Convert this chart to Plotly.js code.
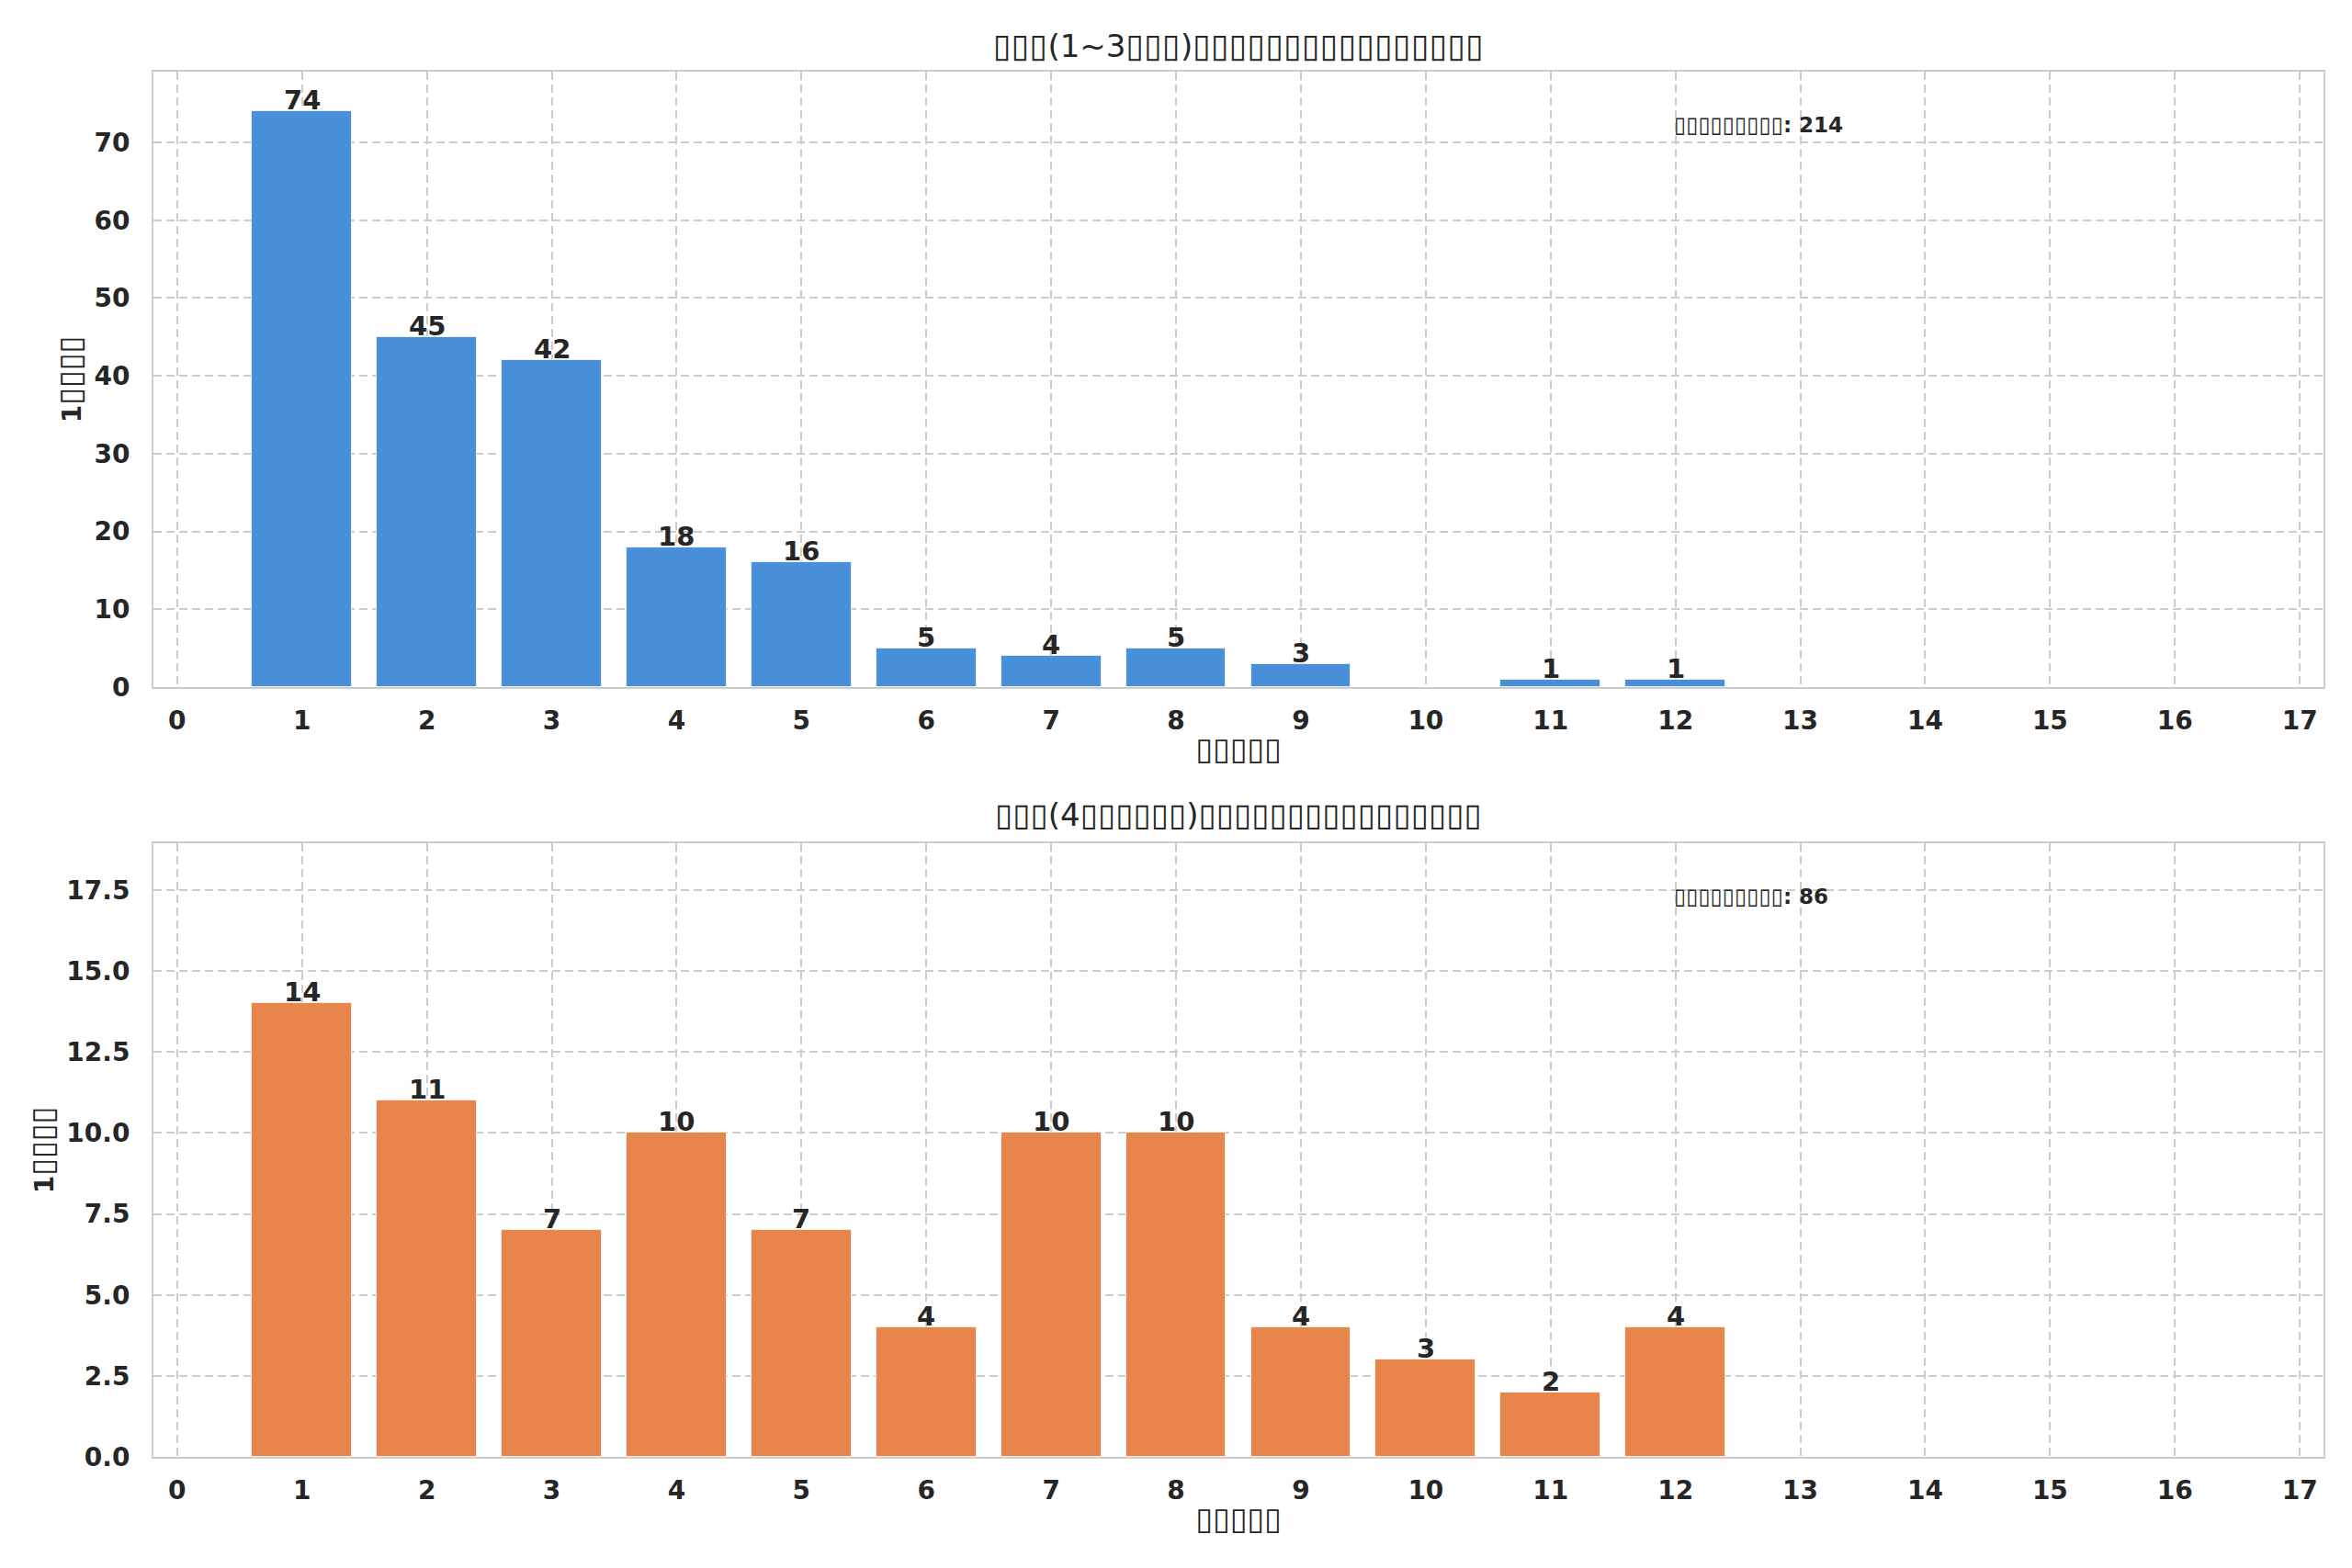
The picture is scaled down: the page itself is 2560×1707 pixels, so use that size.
<!DOCTYPE html>
<html>
<head>
<meta charset="utf-8">
<script src="https://cdn.plot.ly/plotly-3.0.1.min.js"></script>
<style>
  html, body { margin: 0; padding: 0; background: #ffffff; }
  #plot { width: 2560px; height: 1707px; }
</style>
</head>
<body>
<div id="plot"></div>
<script>
// data (the source text rendered as missing-glyph boxes)
const monthsTop = [1, 2, 3, 4, 5, 6, 7, 8, 9, 11, 12];
const countsTop = [74, 45, 42, 18, 16, 5, 4, 5, 3, 1, 1];
const monthsBottom = [1, 2, 3, 4, 5, 6, 7, 8, 9, 10, 11, 12];
const countsBottom = [14, 11, 7, 10, 7, 4, 10, 10, 4, 3, 2, 4];

const xTicks = Array.from({ length: 18 }, (_, i) => i);
const totalTop = countsTop.reduce((a, b) => a + b, 0);
const totalBottom = countsBottom.reduce((a, b) => a + b, 0);

// run of box glyphs, a bit larger than the surrounding text
function boxes(n, px) {
    return '<span style="font-size:' + px + 'px">' + '▯'.repeat(n) + '</span>';
}

const titleTop = boxes(3, 36) + "(1~3" + boxes(3, 36) + ")" + boxes(16, 36);
const titleBottom = boxes(3, 35) + "(4" + boxes(6, 35) + ")" + boxes(16, 35);
const xLabel = boxes(5, 34);
const yLabel = "1" + boxes(4, 34);
const totalLabel = boxes(9, 24);

const FONT = "DejaVu Sans, Liberation Sans, sans-serif";
const TXT = "#262626";
const blue = "#4a90d9";
const orange = "#e8854b";

function barTrace(x, y, color, xa, ya) {
    return {
        type: 'bar',
        x: x,
        y: y,
        width: 0.8,
        xaxis: xa,
        yaxis: ya,
        marker: { color: color, line: { color: 'rgba(255,255,255,0.7)', width: 1 } },
        hoverinfo: 'x+y'
    };
}

// value labels sitting right on top of each bar
function barLabels(x, y, xa, ya) {
    return x.map((v, i) => ({
        x: v,
        y: y[i],
        xref: xa,
        yref: ya,
        text: String(y[i]),
        xanchor: 'center',
        yanchor: 'bottom',
        yshift: -7,
        showarrow: false,
        font: { family: FONT, size: 29, color: TXT, weight: 'bold' }
    }));
}

function xAxis(anchor) {
    return {
        domain: [167 / 2560, 2529 / 2560],
        anchor: anchor,
        range: [-0.19, 17.19],
        tickmode: 'array',
        tickvals: xTicks,
        ticktext: xTicks.map(String),
        ticks: '',
        ticklabelstandoff: 10,
        tickfont: { family: FONT, size: 28, color: TXT, weight: 'bold' },
        showgrid: true,
        gridcolor: '#cccccc',
        gridwidth: 2,
        griddash: '9px,5px',
        zeroline: false,
        showline: true,
        mirror: true,
        linecolor: '#cccccc',
        linewidth: 2,
        title: {
            text: xLabel,
            standoff: 8,
            font: { family: FONT, size: 28, color: TXT, weight: 'bold' }
        }
    };
}

function yAxis(domain, anchor, range, dtick, fmt) {
    return {
        domain: domain,
        anchor: anchor,
        range: range,
        tick0: 0,
        dtick: dtick,
        tickformat: fmt,
        ticks: '',
        ticklabelstandoff: 18,
        tickfont: { family: FONT, size: 28, color: TXT, weight: 'bold' },
        showgrid: true,
        gridcolor: '#cccccc',
        gridwidth: 2,
        griddash: '9px,5px',
        zeroline: false,
        showline: true,
        mirror: true,
        linecolor: '#cccccc',
        linewidth: 2,
        title: {
            text: yLabel,
            standoff: 6,
            font: { family: FONT, size: 28, color: TXT, weight: 'bold' }
        }
    };
}

const data = [
    barTrace(monthsTop, countsTop, blue, 'x', 'y'),
    barTrace(monthsBottom, countsBottom, orange, 'x2', 'y2')
];

const layout = {
    width: 2560,
    height: 1707,
    margin: { l: 0, r: 0, t: 0, b: 0 },
    paper_bgcolor: '#ffffff',
    plot_bgcolor: '#ffffff',
    showlegend: false,
    bargap: 0,
    xaxis: xAxis('y'),
    yaxis: yAxis([1 - 748 / 1707, 1 - 78 / 1707], 'x', [0, 79.1], 10, 'd'),
    xaxis2: xAxis('y2'),
    yaxis2: yAxis([1 - 1586 / 1707, 1 - 918 / 1707], 'x2', [0, 18.95], 2.5, '.1f'),
    annotations: [
        {
            text: titleTop,
            xref: 'x domain', yref: 'paper',
            x: 0.5, y: 1 - 49 / 1707,
            xanchor: 'center', yanchor: 'middle',
            showarrow: false,
            font: { family: FONT, size: 34, color: TXT }
        },
        {
            text: titleBottom,
            xref: 'x2 domain', yref: 'paper',
            x: 0.5, y: 1 - 887 / 1707,
            xanchor: 'center', yanchor: 'middle',
            showarrow: false,
            font: { family: FONT, size: 34, color: TXT }
        },
        {
            text: totalLabel + ': ' + totalTop,
            xref: 'x domain', yref: 'y domain',
            x: 0.7, y: 0.913,
            xanchor: 'left', yanchor: 'middle',
            showarrow: false,
            font: { family: FONT, size: 23, color: TXT, weight: 'bold' }
        },
        {
            text: totalLabel + ': ' + totalBottom,
            xref: 'x2 domain', yref: 'y2 domain',
            x: 0.7, y: 0.913,
            xanchor: 'left', yanchor: 'middle',
            showarrow: false,
            font: { family: FONT, size: 23, color: TXT, weight: 'bold' }
        }
    ].concat(
        barLabels(monthsTop, countsTop, 'x', 'y'),
        barLabels(monthsBottom, countsBottom, 'x2', 'y2')
    )
};

Plotly.newPlot('plot', data, layout, { displayModeBar: false, responsive: false });
</script>
</body>
</html>
